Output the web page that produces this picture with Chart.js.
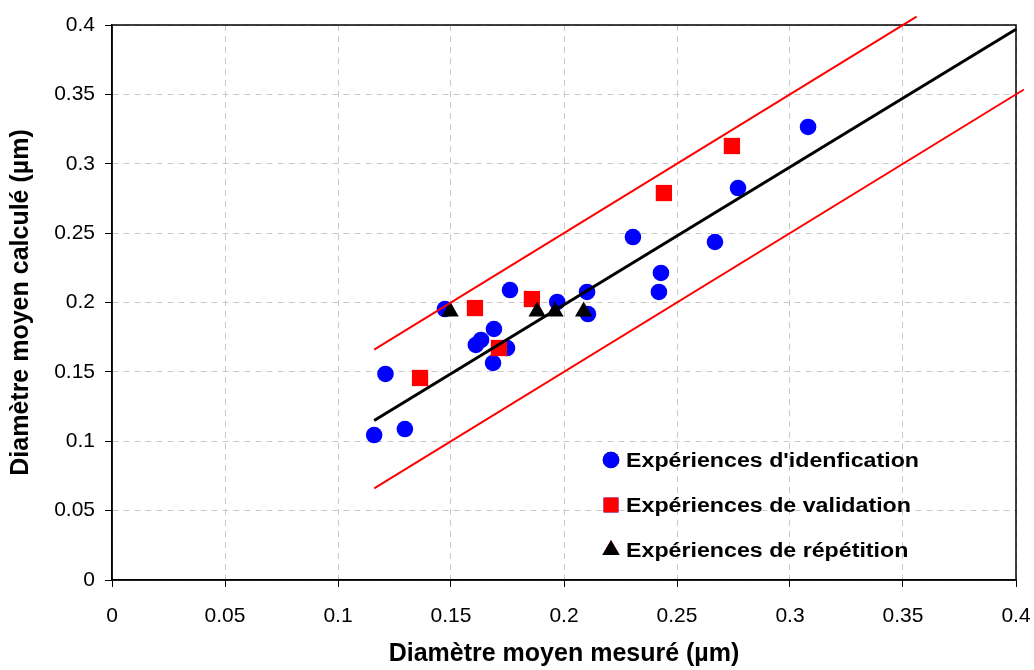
<!DOCTYPE html>
<html>
<head>
<meta charset="utf-8">
<script src="https://cdn.jsdelivr.net/npm/chart.js@4.4.0/dist/chart.umd.min.js"></script>
<style>
    html, body { margin: 0; padding: 0; background: #fff; }
</style>
</head>
<body>
<canvas id="dataChart" width="1034" height="670"></canvas>
<script>
// Expériences d'identification
let identX = [0.116, 0.121, 0.1296, 0.1473, 0.161, 0.1633, 0.169, 0.1686, 0.1748, 0.1761, 0.197, 0.2102, 0.2106, 0.2305, 0.2429, 0.242, 0.2668, 0.277, 0.308];
let identY = [0.1045, 0.1485, 0.1088, 0.1953, 0.1694, 0.173, 0.1809, 0.1564, 0.1672, 0.209, 0.2004, 0.2076, 0.1917, 0.2472, 0.2213, 0.2076, 0.2436, 0.2825, 0.3265];
// Expériences de validation
let validX = [0.1363, 0.1606, 0.1712, 0.1858, 0.2442, 0.2743];
let validY = [0.1456, 0.196, 0.1672, 0.2025, 0.2789, 0.3128];
// Expériences de répétition
let repetX = [0.1496, 0.1881, 0.196, 0.2087];
let repetY = [0.1935, 0.1935, 0.1935, 0.1935];
// droite moyenne et bornes +/- 0.05
let fitX = [0.116, 0.4], fitY = [0.115, 0.397];
let upperX = [0.116, 0.356], upperY = [0.166, 0.406];
let lowerX = [0.116, 0.4035], lowerY = [0.066, 0.3535];
// axes
let tickStep = 0.05, axisMin = 0, axisMax = 0.4;
let legendLabels = ["Expériences d'idenfication", "Expériences de validation", "Expériences de répétition"];

const fontFamily = "'Liberation Sans', Arial, sans-serif";

function toPoints(xs, ys) {
    return xs.map((x, i) => ({x: x, y: ys[i]}));
}

function lineSet(xs, ys, color, width) {
    return {
        type: 'line',
        data: toPoints(xs, ys),
        showLine: true,
        borderColor: color,
        borderWidth: width,
        pointRadius: 0,
        fill: false,
        clip: false
    };
}

// full black frame round the plot area
const frame = {
    id: 'frame',
    beforeDatasetsDraw(chart) {
        const a = chart.chartArea, ctx = chart.ctx;
        ctx.save();
        ctx.strokeStyle = '#000';
        ctx.lineWidth = 1.5;
        ctx.strokeRect(a.left, a.top, a.right - a.left, a.bottom - a.top);
        ctx.restore();
    }
};

// legend drawn inside the plot, lower right
const insideLegend = {
    id: 'insideLegend',
    afterDraw(chart) {
        const ctx = chart.ctx;
        const sets = [chart.data.datasets[5], chart.data.datasets[4], chart.data.datasets[3]];
        const x0 = 611, ys = [460, 505, 550];
        ctx.save();
        sets.forEach((ds, i) => {
            Chart.helpers.drawPoint(ctx, {
                pointStyle: ds.pointStyle,
                radius: ds.legendRadius,
                borderWidth: 0
            }, x0, ys[i]);
            ctx.fillStyle = ds.backgroundColor;
            ctx.fill();
            ctx.save();
            ctx.translate(626, ys[i]);
            ctx.scale(1.16, 1);
            ctx.fillStyle = '#000';
            ctx.font = 'bold 20px ' + fontFamily;
            ctx.textBaseline = 'middle';
            ctx.fillText(legendLabels[i], 0, 1);
            ctx.restore();
        });
        ctx.restore();
    }
};

const ctx = document.getElementById('dataChart').getContext('2d');
const chart = new Chart(ctx, {
    type: 'scatter',
    data: {
        datasets: [
            lineSet(fitX, fitY, '#000000', 3),
            lineSet(upperX, upperY, '#ff0000', 2),
            lineSet(lowerX, lowerY, '#ff0000', 2),
            {
                label: legendLabels[2],
                data: toPoints(repetX, repetY),
                pointStyle: 'triangle',
                pointRadius: 10,
                legendRadius: 10,
                backgroundColor: '#000000',
                borderWidth: 0
            },
            {
                label: legendLabels[1],
                data: toPoints(validX, validY),
                pointStyle: 'rect',
                pointRadius: 11.5,
                legendRadius: 10.5,
                backgroundColor: '#ff0000',
                borderWidth: 0
            },
            {
                label: legendLabels[0],
                data: toPoints(identX, identY),
                pointStyle: 'circle',
                pointRadius: 8.3,
                legendRadius: 8.3,
                backgroundColor: '#0000ff',
                borderWidth: 0
            }
        ]
    },
    options: {
        responsive: false,
        animation: false,
        layout: {padding: {top: 25, right: 18, left: 0, bottom: 0}},
        plugins: {
            legend: {display: false},
            tooltip: {enabled: false}
        },
        scales: {
            x: {
                type: 'linear',
                min: axisMin,
                max: axisMax,
                afterFit: s => { s.height = 90; s.paddingRight = 18; s.paddingLeft = 0; },
                ticks: {
                    stepSize: tickStep,
                    color: '#000',
                    padding: 17,
                    font: {family: fontFamily, size: 21},
                    callback: v => String(Number(v.toFixed(2)))
                },
                grid: {color: '#c8c8c8', lineWidth: 1, tickColor: '#000', tickLength: 7, tickBorderDash: []},
                border: {color: '#000', width: 1.5, dash: [6, 5]},
                title: {
                    display: true,
                    text: 'Diamètre moyen mesuré (µm)',
                    color: '#000',
                    font: {family: fontFamily, size: 25, weight: 'bold'},
                    padding: {top: 0, bottom: 1}
                }
            },
            y: {
                type: 'linear',
                min: axisMin,
                max: axisMax,
                afterFit: s => { s.width = 112; },
                ticks: {
                    stepSize: tickStep,
                    color: '#000',
                    padding: 10,
                    font: {family: fontFamily, size: 21},
                    callback: v => String(Number(v.toFixed(2)))
                },
                grid: {color: '#c8c8c8', lineWidth: 1, tickColor: '#000', tickLength: 7, tickBorderDash: []},
                border: {color: '#000', width: 1.5, dash: [6, 5]},
                title: {
                    display: true,
                    text: 'Diamètre moyen calculé (µm)',
                    color: '#000',
                    font: {family: fontFamily, size: 25, weight: 'bold'},
                    padding: {top: 6, bottom: 0}
                }
            }
        }
    },
    plugins: [frame, insideLegend]
});
</script>
</body>
</html>
